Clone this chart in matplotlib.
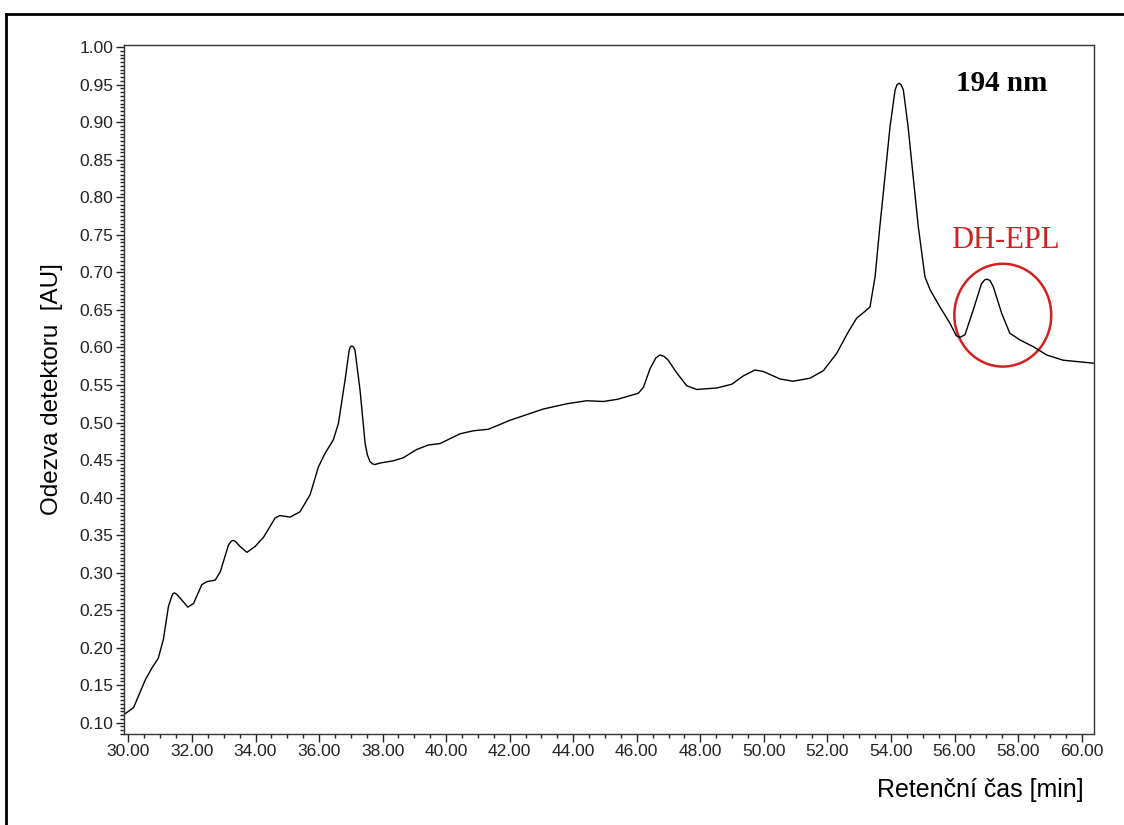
import matplotlib.pyplot as plt
from matplotlib.patches import Ellipse
from matplotlib.lines import Line2D
from matplotlib.ticker import MultipleLocator, FormatStrFormatter

# retention time [min] and detector response [AU]
time = [29.86, 30.16, 30.53, 30.74, 30.94, 31.10, 31.26, 31.36, 31.40, 31.45,
        31.52, 31.63, 31.87, 32.05, 32.31, 32.47, 32.73, 32.89, 33.15, 33.24,
        33.30, 33.38, 33.51, 33.73, 33.99, 34.25, 34.62, 34.77, 35.09, 35.40,
        35.72, 35.98, 36.19, 36.45, 36.61, 36.82, 36.95, 36.99, 37.03, 37.07,
        37.13, 37.29, 37.45, 37.52, 37.60, 37.68, 37.76, 37.92, 38.34, 38.65,
        39.07, 39.44, 39.81, 40.44, 40.86, 41.33, 42.01, 43.06, 43.80, 44.42,
        44.95, 45.40, 46.05, 46.21, 46.42, 46.60, 46.73, 46.86, 46.99, 47.26,
        47.57, 47.89, 48.52, 48.99, 49.35, 49.72, 49.98, 50.51, 50.92, 51.45,
        51.87, 52.29, 52.66, 52.92, 53.18, 53.34, 53.50, 53.65, 53.81, 53.97,
        54.13, 54.19, 54.25, 54.32, 54.39, 54.54, 54.70, 54.86, 55.07, 55.23,
        55.54, 55.86, 56.05, 56.12, 56.20, 56.33, 56.59, 56.85, 56.95, 57.03,
        57.12, 57.22, 57.48, 57.74, 58.06, 58.48, 58.90, 59.42, 60.39]
response = [0.111, 0.120, 0.157, 0.173, 0.186, 0.211, 0.255, 0.268, 0.272, 0.273,
            0.271, 0.266, 0.254, 0.259, 0.284, 0.288, 0.290, 0.301, 0.337, 0.342,
            0.343, 0.341, 0.335, 0.327, 0.335, 0.347, 0.373, 0.376, 0.374, 0.381,
            0.404, 0.441, 0.459, 0.477, 0.499, 0.557, 0.597, 0.601, 0.602, 0.601,
            0.597, 0.543, 0.472, 0.457, 0.448, 0.445, 0.444, 0.446, 0.449, 0.453,
            0.464, 0.470, 0.472, 0.485, 0.489, 0.491, 0.503, 0.518, 0.525, 0.529,
            0.528, 0.531, 0.539, 0.547, 0.572, 0.586, 0.590, 0.588, 0.583, 0.566,
            0.549, 0.544, 0.546, 0.551, 0.562, 0.570, 0.568, 0.558, 0.555, 0.559,
            0.569, 0.592, 0.621, 0.639, 0.648, 0.654, 0.694, 0.761, 0.827, 0.894,
            0.943, 0.950, 0.952, 0.950, 0.943, 0.894, 0.827, 0.761, 0.694, 0.677,
            0.654, 0.632, 0.616, 0.614, 0.614, 0.617, 0.650, 0.685, 0.690, 0.691,
            0.689, 0.681, 0.646, 0.619, 0.610, 0.601, 0.590, 0.583, 0.579]

plt.rcParams['font.family'] = ['Liberation Sans', 'DejaVu Sans']

fig = plt.figure(figsize=(11.24, 8.25), dpi=100)
ax = fig.add_axes([0.1103, 0.1103, 0.863, 0.8352])

ax.plot(time, response, color='black', lw=1.0)

ax.set_xlim(29.86, 60.39)
ax.set_ylim(0.085, 1.003)
ax.xaxis.set_major_locator(MultipleLocator(2))
ax.xaxis.set_minor_locator(MultipleLocator(0.5))
ax.yaxis.set_major_locator(MultipleLocator(0.05))
ax.yaxis.set_minor_locator(MultipleLocator(0.005))
ax.xaxis.set_major_formatter(FormatStrFormatter('%.2f'))
ax.yaxis.set_major_formatter(FormatStrFormatter('%.2f'))
ax.tick_params(which='major', direction='out', length=6, width=1,
               labelsize=12.5, colors='#222222', pad=1.5)
ax.tick_params(which='minor', direction='out', length=3, width=1, colors='#222222')
for s in ax.spines.values():
    s.set_linewidth(1.0)
    s.set_color('#333333')

ax.set_ylabel('Odezva detektoru  [AU]', fontsize=17.5, labelpad=12)
fig.text(0.964, 0.042, 'Retenční čas [min]', fontsize=18, ha='right', va='center')

# annotations
ax.text(57.49, 0.952, '194 nm', fontsize=21, fontweight='bold',
        family='Liberation Serif', ha='center', va='center')
ax.text(57.61, 0.742, 'DH-EPL', fontsize=22, color='#d42020',
        family='Liberation Serif', ha='center', va='center')
ax.add_patch(Ellipse((57.52, 0.643), 3.05, 0.137, fill=False,
                     edgecolor='#d42020', lw=1.8))

# outer frame (left and top edges visible)
fig.add_artist(Line2D([0.0053, 0.0053], [0.983, 0.0], color='black', lw=2))
fig.add_artist(Line2D([0.0053, 1.0], [0.983, 0.983], color='black', lw=2))

fig.savefig('out.png', dpi=100)
